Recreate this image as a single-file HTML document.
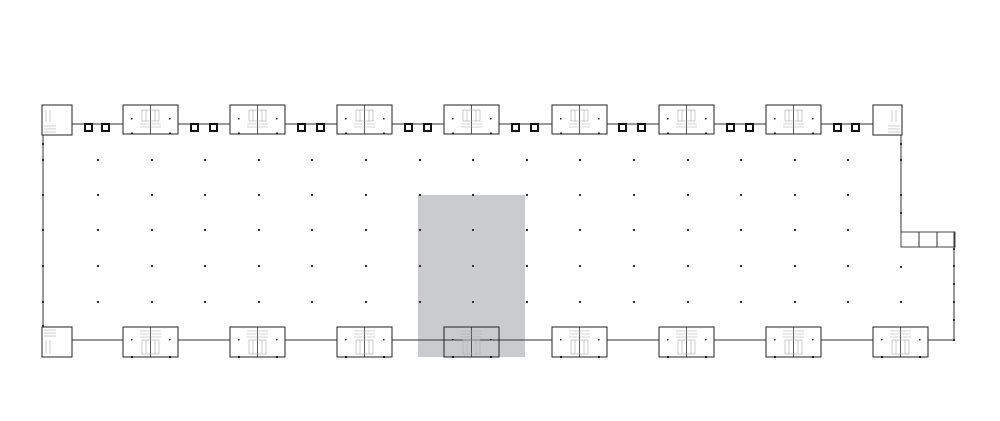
<!DOCTYPE html>
<html><head><meta charset="utf-8"><style>html,body{margin:0;padding:0;background:#fff}svg{display:block}</style></head>
<body>
<svg width="1000" height="421" viewBox="0 0 1000 421" xmlns="http://www.w3.org/2000/svg">
<defs>
<g id="ct">
  <rect x="0" y="0" width="55" height="29" fill="none" stroke="#222" stroke-width="1"/>
  <line x1="27.5" y1="0" x2="27.5" y2="29" stroke="#333" stroke-width="0.8"/>
  <g stroke="#aaa" stroke-width="0.6" fill="none">
    <rect x="19" y="5" width="17" height="11"/>
    <line x1="23" y1="5" x2="23" y2="16"/><line x1="32" y1="5" x2="32" y2="16"/>
    <line x1="17" y1="19" x2="38" y2="19"/><line x1="17" y1="22" x2="38" y2="22"/>
  </g>
  <g fill="#222"><rect x="8" y="13" width="1.5" height="1.5"/><rect x="46" y="13" width="1.5" height="1.5"/><rect x="8" y="27.5" width="2" height="2"/><rect x="46" y="27.5" width="2" height="2"/></g>
</g>
<g id="cb">
  <rect x="0" y="0" width="55" height="30" fill="none" stroke="#222" stroke-width="1"/>
  <line x1="27.5" y1="0" x2="27.5" y2="30" stroke="#333" stroke-width="0.8"/>
  <g stroke="#aaa" stroke-width="0.6" fill="none">
    <line x1="17" y1="4" x2="38" y2="4"/><line x1="17" y1="7" x2="38" y2="7"/><line x1="17" y1="10" x2="38" y2="10"/>
    <rect x="19" y="13" width="17" height="14"/>
    <line x1="23" y1="13" x2="23" y2="27"/><line x1="32" y1="13" x2="32" y2="27"/>
  </g>
  <g fill="#222"><rect x="8" y="12" width="1.5" height="1.5"/><rect x="46" y="12" width="1.5" height="1.5"/><rect x="8" y="29" width="2" height="2"/><rect x="46" y="29" width="2" height="2"/></g>
</g>
<g id="sq"><rect x="0" y="0" width="7" height="7" fill="none" stroke="#111" stroke-width="2"/></g>
<g id="row">
<rect x="97" y="-1" width="2" height="2"/><rect x="151" y="-1" width="2" height="2"/><rect x="204" y="-1" width="2" height="2"/><rect x="258" y="-1" width="2" height="2"/><rect x="311" y="-1" width="2" height="2"/><rect x="365" y="-1" width="2" height="2"/><rect x="419" y="-1" width="2" height="2"/><rect x="472" y="-1" width="2" height="2"/><rect x="526" y="-1" width="2" height="2"/><rect x="579" y="-1" width="2" height="2"/><rect x="633" y="-1" width="2" height="2"/><rect x="687" y="-1" width="2" height="2"/><rect x="740" y="-1" width="2" height="2"/><rect x="794" y="-1" width="2" height="2"/><rect x="847" y="-1" width="2" height="2"/>
</g>
</defs>

<rect x="418" y="195" width="107" height="162" fill="#c9cccf"/>

<g stroke="#333" stroke-width="1" fill="none">
  <polyline points="43,124 901,124 901,232 954,232 954,340 43,340 43,124"/>
  <rect x="901" y="232" width="54" height="15" stroke="#444"/>
  <line x1="919" y1="232" x2="919" y2="247"/><line x1="937" y1="232" x2="937" y2="247"/>
</g>

<use href="#sq" x="85" y="124"/><use href="#sq" x="102" y="124"/>
<use href="#sq" x="191" y="124"/><use href="#sq" x="210" y="124"/>
<use href="#sq" x="298" y="124"/><use href="#sq" x="317" y="124"/>
<use href="#sq" x="405" y="124"/><use href="#sq" x="424" y="124"/>
<use href="#sq" x="512" y="124"/><use href="#sq" x="531" y="124"/>
<use href="#sq" x="619" y="124"/><use href="#sq" x="638" y="124"/>
<use href="#sq" x="727" y="124"/><use href="#sq" x="746" y="124"/>
<use href="#sq" x="834" y="124"/><use href="#sq" x="852" y="124"/>

<rect x="42" y="105" width="30" height="30" fill="#fff" stroke="#222"/>
<g stroke="#aaa" stroke-width="0.6"><line x1="46" y1="110" x2="46" y2="122"/><line x1="50" y1="110" x2="50" y2="122"/><line x1="44" y1="126" x2="56" y2="126"/><line x1="44" y1="129" x2="56" y2="129"/><line x1="44" y1="132" x2="56" y2="132"/></g>
<g fill="#fff"><rect x="123" y="105" width="55" height="29"/><rect x="230" y="105" width="55" height="29"/><rect x="337" y="105" width="55" height="29"/><rect x="444" y="105" width="55" height="29"/><rect x="552" y="105" width="55" height="29"/><rect x="659" y="105" width="55" height="29"/><rect x="766" y="105" width="55" height="29"/>
<rect x="123" y="327" width="55" height="30"/><rect x="230" y="327" width="55" height="30"/><rect x="337" y="327" width="55" height="30"/><rect x="552" y="327" width="55" height="30"/><rect x="659" y="327" width="55" height="30"/><rect x="766" y="327" width="55" height="30"/><rect x="873" y="327" width="55" height="30"/></g>
<use href="#ct" x="123" y="105"/><use href="#ct" x="230" y="105"/><use href="#ct" x="337" y="105"/>
<use href="#ct" x="444" y="105"/><use href="#ct" x="552" y="105"/><use href="#ct" x="659" y="105"/><use href="#ct" x="766" y="105"/>
<rect x="873" y="105" width="29" height="30" fill="#fff" stroke="#222"/>
<g stroke="#aaa" stroke-width="0.6"><line x1="896" y1="110" x2="896" y2="122"/><line x1="892" y1="110" x2="892" y2="122"/><line x1="888" y1="126" x2="900" y2="126"/><line x1="888" y1="129" x2="900" y2="129"/><line x1="888" y1="132" x2="900" y2="132"/></g>

<rect x="42" y="327" width="30" height="30" fill="#fff" stroke="#222"/>
<g stroke="#aaa" stroke-width="0.6"><line x1="44" y1="330" x2="56" y2="330"/><line x1="44" y1="333" x2="56" y2="333"/><line x1="44" y1="336" x2="56" y2="336"/><line x1="46" y1="340" x2="46" y2="354"/><line x1="50" y1="340" x2="50" y2="354"/></g>
<use href="#cb" x="123" y="327"/><use href="#cb" x="230" y="327"/><use href="#cb" x="337" y="327"/>
<use href="#cb" x="444" y="327"/><use href="#cb" x="552" y="327"/><use href="#cb" x="659" y="327"/><use href="#cb" x="766" y="327"/><use href="#cb" x="873" y="327"/>

<g fill="#333">
<use href="#row" y="160"/><use href="#row" y="195"/><use href="#row" y="230"/><use href="#row" y="266"/><use href="#row" y="302"/>
<rect x="42" y="143" width="2" height="2"/><rect x="42" y="159" width="2" height="2"/><rect x="42" y="194" width="2" height="2"/><rect x="42" y="229" width="2" height="2"/><rect x="42" y="265" width="2" height="2"/><rect x="42" y="301" width="2" height="2"/><rect x="42" y="325" width="2" height="2"/>
<rect x="900" y="143" width="2" height="2"/><rect x="900" y="159" width="2" height="2"/><rect x="900" y="194" width="2" height="2"/><rect x="900" y="212" width="2" height="2"/>
<rect x="900" y="266" width="2" height="2"/><rect x="900" y="301" width="2" height="2"/>
<rect x="953" y="248" width="2" height="2"/><rect x="953" y="265" width="2" height="2"/><rect x="953" y="283" width="2" height="2"/><rect x="953" y="301" width="2" height="2"/><rect x="953" y="319" width="2" height="2"/><rect x="953" y="339" width="2" height="2"/>
</g>
</svg>
</body></html>
